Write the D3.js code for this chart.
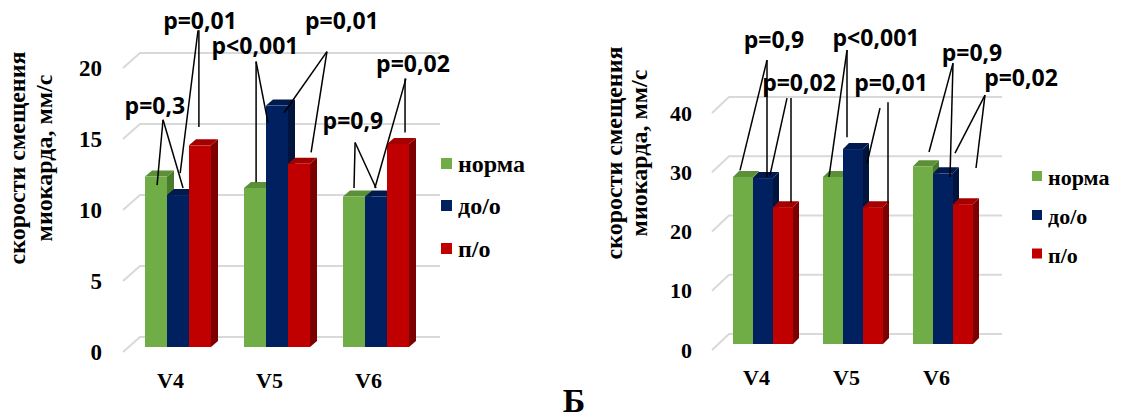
<!DOCTYPE html>
<html>
<head>
<meta charset="utf-8">
<script src="https://cdn.jsdelivr.net/npm/d3@7"></script>
<style>
  html, body { margin: 0; padding: 0; background: #fff; }
  svg { display: block; }
</style>
</head>
<body>
<div id="chart"></div>
<script>
const categories = ["V4", "V5", "V6"];
const seriesLabels = ["норма", "до/о", "п/о"];
const axisTitle = ["скорости смещения", "миокарда, мм/с"];

// panel A (left)
const ticksA = [0, 5, 10, 15, 20];
const normaA = [12.0, 11.2, 10.6];
const beforeA = [10.7, 17.0, 10.6];
const afterA = [14.2, 12.9, 14.3];

// panel B (right)
const ticksB = [0, 10, 20, 30, 40];
const normaB = [28.2, 28.2, 30.0];
const beforeB = [28.0, 32.9, 28.8];
const afterB = [23.1, 23.1, 23.6];

// p-value callouts: label at [slot, value], leader lines [[slot, value], [slot, value]]
// slot = position inside a category group, in bar widths
const notesA = [
  { text: "p=0,3", cat: "V4", at: [0.45, 16.4], lines: [[[0.82, 16.0], [0.55, 11.4]], [[0.82, 16.0], [1.73, 11.2]]] },
  { text: "p=0,01", cat: "V4", at: [2.5, 22.4], lines: [[[2.41, 22.3], [1.6, 12.25]], [[2.45, 22.3], [2.45, 15.5]]] },
  { text: "p<0,001", cat: "V5", at: [0.5, 20.6], lines: [[[0.55, 20.1], [0.55, 11.6]], [[0.55, 20.1], [1.09, 15.8]]] },
  { text: "p=0,01", cat: "V5", at: [4.45, 22.4], lines: [[[3.77, 20.8], [1.82, 16.5]], [[3.77, 20.8], [3.05, 13.7]]] },
  { text: "p=0,9", cat: "V6", at: [0.45, 15.35], lines: [[[0.55, 14.4], [0.5, 11.2]], [[0.55, 14.4], [1.5, 11.2]]] },
  { text: "p=0,02", cat: "V6", at: [3.18, 19.4], lines: [[[2.86, 18.9], [1.45, 11.2]], [[2.82, 18.9], [2.82, 15.1]]] }
];
const notesB = [
  { text: "p=0,9", cat: "V4", at: [2.05, 49.9], lines: [[[1.7, 47.9], [0.35, 29.3]], [[1.7, 47.9], [1.7, 28.2]]] },
  { text: "p=0,02", cat: "V4", at: [3.3, 42.7], lines: [[[2.7, 41.5], [1.85, 28.5]], [[2.9, 41.5], [2.9, 23.9]]] },
  { text: "p<0,001", cat: "V5", at: [2.65, 50.3], lines: [[[1.2, 49.6], [0.3, 28.2]], [[1.2, 49.6], [1.2, 34.9]]] },
  { text: "p=0,01", cat: "V5", at: [3.4, 42.7], lines: [[[2.85, 39.8], [2.2, 30.5]], [[3.25, 40.8], [3.25, 23.8]]] },
  { text: "p=0,9", cat: "V6", at: [2.95, 47.7], lines: [[[2.0, 47.4], [0.8, 32.4]], [[2.0, 47.4], [1.85, 28.2]]] },
  { text: "p=0,02", cat: "V6", at: [5.4, 43.5], lines: [[[3.6, 42.0], [2.1, 32.2]], [[3.6, 42.0], [3.15, 29.7]]] }
];

const faces = [
  { front: "#70ad47", top: "#5b8f38", side: "#4a7a2c" },
  { front: "#002060", top: "#001a4e", side: "#00143e" },
  { front: "#c00000", top: "#a50000", side: "#7c0000" }
];
const serif = '"Liberation Serif"';
const sans = '"Open Sans"';

const width = 1145, height = 420;
const svg = d3.select("#chart").append("svg")
  .attr("width", width)
  .attr("height", height);

function label(sel, family, size) {
  return sel.style("font-family", family)
    .style("font-weight", "bold")
    .style("font-size", size + "px");
}

function drawPanel(cfg) {
  const g = svg.append("g");
  const yFront = d3.scaleLinear().domain(cfg.domain).range([cfg.y0, cfg.yTop]);
  const yBar = v => yFront(v) - cfg.barLift;
  const x = d3.scaleBand().domain(categories).range(cfg.xRange)
    .paddingInner(1 / 3).paddingOuter(1 / 6);
  const xs = d3.scaleBand().domain(d3.range(seriesLabels.length)).range([0, x.bandwidth()]);
  const bw = xs.bandwidth();

  // floor + back wall gridlines
  g.selectAll("path.grid").data(cfg.ticks).join("path")
    .attr("class", "grid")
    .attr("fill", "none")
    .attr("stroke", "#d9d9d9")
    .attr("stroke-width", 2)
    .attr("d", t => `M${cfg.gridX0},${yFront(t)}L${cfg.gridX0 + cfg.gridDx},${yFront(t) - cfg.gridDy}H${cfg.gridX1}`);

  // tick labels
  const ax = g.append("g")
    .attr("transform", `translate(${cfg.tickX},0)`)
    .call(d3.axisLeft(yFront).tickValues(cfg.ticks).tickSize(0).tickPadding(0));
  ax.select(".domain").remove();
  label(ax.selectAll("text"), serif, cfg.tickSize).attr("fill", "#000");

  // 3d columns, drawn left to right so neighbours hide the side faces
  const bars = [];
  categories.forEach((c, ci) => {
    cfg.series.forEach((vals, si) => bars.push({ c, si, v: vals[ci] }));
  });
  const dx = cfg.depthX, dy = cfg.depthY;
  bars.forEach(b => {
    const x0 = x(b.c) + xs(b.si), x1 = x0 + bw;
    const yt = yBar(b.v), yb = yBar(0);
    const bar = g.append("g");
    bar.append("polygon")
      .attr("fill", faces[b.si].side)
      .attr("points", [[x1, yt], [x1 + dx, yt - dy], [x1 + dx, yb - dy], [x1, yb]].join(" "));
    bar.append("polygon")
      .attr("fill", faces[b.si].top)
      .attr("points", [[x0, yt], [x0 + dx, yt - dy], [x1 + dx, yt - dy], [x1, yt]].join(" "));
    bar.append("rect")
      .attr("x", x0).attr("y", yt)
      .attr("width", bw).attr("height", yb - yt)
      .attr("fill", faces[b.si].front);
  });

  // category labels
  label(g.selectAll("text.cat").data(categories).join("text"), serif, 22)
    .attr("class", "cat")
    .attr("x", c => x(c) + x.bandwidth() / 2 + cfg.catShift)
    .attr("y", cfg.catY)
    .attr("text-anchor", "middle")
    .text(c => c);

  // axis title
  axisTitle.forEach((t, i) => {
    label(g.append("text"), serif, 24)
      .attr("transform", `translate(${cfg.titleX[i]},${cfg.titleY}) rotate(-90)`)
      .attr("text-anchor", "middle")
      .text(t);
  });

  // legend
  seriesLabels.forEach((s, i) => {
    const ly = cfg.legendY[i];
    g.append("rect")
      .attr("x", cfg.legendX).attr("y", ly - cfg.legendBox / 2)
      .attr("width", cfg.legendBox).attr("height", cfg.legendBox)
      .attr("fill", faces[i].front);
    label(g.append("text"), serif, cfg.legendSize)
      .attr("x", cfg.legendX + cfg.legendBox + 6)
      .attr("y", ly + cfg.legendDy)
      .text(s);
  });

  // p-value callouts
  const px = (n, slot) => x(n.cat) + slot * bw;
  cfg.notes.forEach(n => {
    n.lines.forEach(([a, b]) => {
      g.append("line")
        .attr("x1", px(n, a[0])).attr("y1", yBar(a[1]))
        .attr("x2", px(n, b[0])).attr("y2", yBar(b[1]))
        .attr("stroke", "#000")
        .attr("stroke-width", 1.5);
    });
  });
  cfg.notes.forEach(n => {
    label(g.append("text"), sans, 23)
      .attr("x", px(n, n.at[0]))
      .attr("y", yBar(n.at[1]))
      .attr("text-anchor", "middle")
      .text(n.text);
  });
}

drawPanel({
  domain: [0, 20], ticks: ticksA, y0: 352, yTop: 68, barLift: 5,
  xRange: [128.5, 425.5], series: [normaA, beforeA, afterA],
  gridX0: 123, gridDx: 17, gridDy: 15, gridX1: 440,
  tickX: 102, tickSize: 23, depthX: 7, depthY: 6,
  catShift: -7.5, catY: 388,
  titleX: [25, 52], titleY: 158,
  legendX: 441, legendY: [163.5, 205.5, 248.5], legendBox: 11, legendDy: 8.5, legendSize: 24,
  notes: notesA
});

drawPanel({
  domain: [0, 40], ticks: ticksB, y0: 350, yTop: 113, barLift: 6,
  xRange: [718, 988], series: [normaB, beforeB, afterB],
  gridX0: 712, gridDx: 17, gridDy: 16, gridX1: 1002,
  tickX: 692, tickSize: 22, depthX: 6, depthY: 6,
  catShift: -6.5, catY: 385,
  titleX: [622, 647], titleY: 153,
  legendX: 1032, legendY: [176, 215, 253.5], legendBox: 10, legendDy: 9, legendSize: 22,
  notes: notesB
});

label(svg.append("text"), serif, 34)
  .attr("x", 574).attr("y", 412)
  .attr("text-anchor", "middle")
  .text("Б");
</script>
</body>
</html>
